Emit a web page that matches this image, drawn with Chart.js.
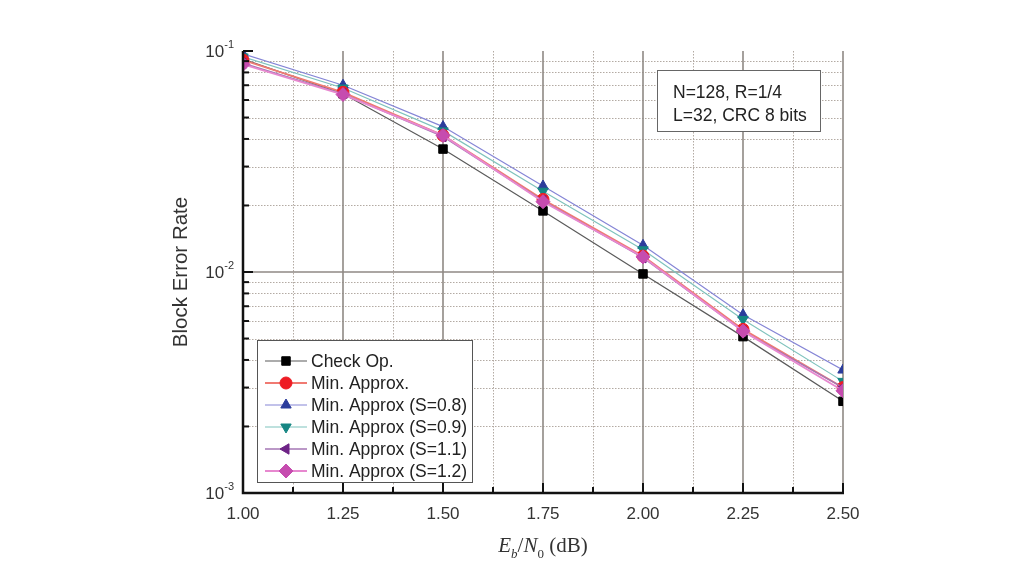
<!DOCTYPE html>
<html>
<head>
<meta charset="utf-8">
<script src="https://cdn.jsdelivr.net/npm/chart.js@4/dist/chart.umd.min.js"></script>
<style>
  html, body { margin: 0; padding: 0; background: #fff; }
  #wrap { width: 1032px; height: 570px; }
</style>
</head>
<body>
<div id="wrap"><canvas id="berChart" width="1032" height="570"></canvas></div>
<script>
// values
var ebn0 = [1.00, 1.25, 1.50, 1.75, 2.00, 2.25, 2.50];
var checkOp   = [0.092, 0.064, 0.036, 0.0189, 0.0098, 0.0051, 0.0026];
var minApprox = [0.091, 0.065, 0.0415, 0.0213, 0.0118, 0.0055, 0.0030];
var minS08    = [0.097, 0.070, 0.0455, 0.0245, 0.0132, 0.0064, 0.0036];
var minS09    = [0.094, 0.068, 0.0435, 0.0232, 0.0126, 0.0061, 0.0032];
var minS11    = [0.088, 0.064, 0.0410, 0.0210, 0.0116, 0.0054, 0.0030];
var minS12    = [0.087, 0.0635, 0.0415, 0.0208, 0.0117, 0.0054, 0.0029];
var seriesNames = ['Check Op.', 'Min. Approx.', 'Min. Approx (S=0.8)', 'Min. Approx (S=0.9)', 'Min. Approx (S=1.1)', 'Min. Approx (S=1.2)'];
var yDecades = [0.1, 0.01, 0.001];
var yDecadeExp = ['-1', '-2', '-3'];
var noteLines = ['N=128, R=1/4', 'L=32, CRC 8 bits'];

function pts(vals){ return vals.map(function(v, i){ return {x: ebn0[i], y: v}; }); }

function mk(label, vals, line, fill, style, rot, lw, order){
  return {
    label: label, data: pts(vals), borderColor: line, backgroundColor: fill,
    pointBackgroundColor: fill, pointBorderColor: fill, pointStyle: style,
    pointRotation: rot, pointRadius: style == 'rectRot' ? 7 : 6, pointBorderWidth: 1,
    borderWidth: lw, tension: 0, order: order
  };
}

var datasets = [
  mk(seriesNames[0], checkOp,   '#5a5a5a', '#000000', 'rect', 0, 1.2, 5),
  mk(seriesNames[1], minApprox, '#f07a72', '#ee1c24', 'circle', 0, 1.8, 2),
  mk(seriesNames[2], minS08,    '#8585d6', '#2b3c9c', 'triangle', 0, 1.2, 4),
  mk(seriesNames[3], minS09,    '#7fc3bd', '#168683', 'triangle', 180, 1.2, 3),
  mk(seriesNames[4], minS11,    '#a576b4', '#6e2386', 'triangle', -90, 1.4, 1),
  mk(seriesNames[5], minS12,    '#e788cf', '#c64caf', 'rectRot', 0, 1.8, 0)
];

var gridPlugin = {
  id: 'gridPlugin',
  beforeDatasetsDraw: function(chart){
    var ctx = chart.ctx, a = chart.chartArea, xs = chart.scales.x, ys = chart.scales.y;
    ctx.save();
    // minor dotted grid
    ctx.strokeStyle = '#b3aaa3'; ctx.lineWidth = 1; ctx.setLineDash([1.5, 1.5]);
    xs.ticks.forEach(function(t){
      if (Math.abs(t.value * 4 - Math.round(t.value * 4)) > 1e-6) {
        var px = Math.round(xs.getPixelForValue(t.value)) + 0.5;
        ctx.beginPath(); ctx.moveTo(px, a.top); ctx.lineTo(px, a.bottom); ctx.stroke();
      }
    });
    for (var d = 0; d < 2; d++) {
      for (var m = 2; m <= 9; m++) {
        var py = Math.round(ys.getPixelForValue(m * yDecades[d + 1])) + 0.5;
        ctx.beginPath(); ctx.moveTo(a.left, py); ctx.lineTo(a.right, py); ctx.stroke();
      }
    }
    // major solid grid
    ctx.setLineDash([]); ctx.strokeStyle = '#8f8984'; ctx.lineWidth = 1.6;
    xs.ticks.forEach(function(t){
      if (Math.abs(t.value * 4 - Math.round(t.value * 4)) < 1e-6 && t.value > 1) {
        var px = xs.getPixelForValue(t.value);
        ctx.beginPath(); ctx.moveTo(px, a.top); ctx.lineTo(px, a.bottom); ctx.stroke();
      }
    });
    var p2 = ys.getPixelForValue(0.01);
    ctx.beginPath(); ctx.moveTo(a.left, p2); ctx.lineTo(a.right, p2); ctx.stroke();
    ctx.restore();
  },
  afterDatasetsDraw: function(chart){
    var ctx = chart.ctx, a = chart.chartArea, xs = chart.scales.x, ys = chart.scales.y;
    ctx.save();
    // axes
    ctx.strokeStyle = '#111'; ctx.lineWidth = 2.5;
    ctx.beginPath(); ctx.moveTo(a.left, a.top); ctx.lineTo(a.left, a.bottom); ctx.lineTo(a.right + 1, a.bottom); ctx.stroke();
    ctx.lineWidth = 2;
    xs.ticks.forEach(function(t){
      var major = Math.abs(t.value * 4 - Math.round(t.value * 4)) < 1e-6;
      var px = xs.getPixelForValue(t.value);
      ctx.beginPath(); ctx.moveTo(px, a.bottom); ctx.lineTo(px, a.bottom - (major ? 10 : 6)); ctx.stroke();
    });
    yDecades.forEach(function(v){
      var py = ys.getPixelForValue(v);
      ctx.beginPath(); ctx.moveTo(a.left, py); ctx.lineTo(a.left + 10, py); ctx.stroke();
    });
    for (var d = 0; d < 2; d++) {
      for (var m = 2; m <= 9; m++) {
        var py = ys.getPixelForValue(m * yDecades[d + 1]);
        ctx.beginPath(); ctx.moveTo(a.left, py); ctx.lineTo(a.left + 6, py); ctx.stroke();
      }
    }
    // y tick labels 10^n
    ctx.fillStyle = '#333'; ctx.textBaseline = 'alphabetic';
    yDecades.forEach(function(v, i){
      var py = ys.getPixelForValue(v);
      ctx.font = '11px "Liberation Sans", Arial, sans-serif';
      var ew = ctx.measureText(yDecadeExp[i]).width;
      ctx.textAlign = 'right';
      ctx.fillText(yDecadeExp[i], a.left - 9, py - 3);
      ctx.font = '17px "Liberation Sans", Arial, sans-serif';
      ctx.fillText('10', a.left - 9 - ew, py + 6);
    });
    // y title
    ctx.save();
    ctx.translate(181, (a.top + a.bottom) / 2);
    ctx.rotate(-Math.PI / 2);
    ctx.font = '20.5px "Liberation Sans", Arial, sans-serif';
    ctx.textAlign = 'center'; ctx.textBaseline = 'middle'; ctx.fillStyle = '#333';
    ctx.fillText('Block Error Rate', 0, 0);
    ctx.restore();
    // x title: Eb/N0 (dB)
    var parts = [
      {t: 'E', f: 'italic 21px "Liberation Serif", "Times New Roman", serif', dy: 0},
      {t: 'b', f: 'italic 13px "Liberation Serif", "Times New Roman", serif', dy: 6},
      {t: '/', f: '21px "Liberation Serif", "Times New Roman", serif', dy: 0},
      {t: 'N', f: 'italic 21px "Liberation Serif", "Times New Roman", serif', dy: 0},
      {t: '0', f: '13px "Liberation Serif", "Times New Roman", serif', dy: 6},
      {t: ' (dB)', f: '21px "Liberation Serif", "Times New Roman", serif', dy: 0}
    ];
    var total = 0;
    parts.forEach(function(p){ ctx.font = p.f; p.w = ctx.measureText(p.t).width; total += p.w; });
    var cx = (a.left + a.right) / 2 - total / 2, base = 552;
    ctx.textAlign = 'left'; ctx.fillStyle = '#333';
    parts.forEach(function(p){ ctx.font = p.f; ctx.fillText(p.t, cx, base + p.dy); cx += p.w; });
    // legend box
    var lx = 257, ly = 340, lw = 215, lh = 142;
    ctx.fillStyle = '#fff'; ctx.fillRect(lx, ly, lw, lh);
    ctx.strokeStyle = '#555'; ctx.lineWidth = 1; ctx.strokeRect(lx + 0.5, ly + 0.5, lw, lh);
    chart.data.datasets.forEach(function(ds, i){
      var ry = ly + 21 + i * 22;
      ctx.strokeStyle = ds.borderColor; ctx.lineWidth = ds.borderWidth;
      ctx.beginPath(); ctx.moveTo(lx + 8, ry); ctx.lineTo(lx + 50, ry); ctx.stroke();
      ctx.fillStyle = ds.pointBackgroundColor; ctx.strokeStyle = ds.pointBorderColor; ctx.lineWidth = 1;
      Chart.helpers.drawPoint(ctx, {pointStyle: ds.pointStyle, radius: ds.pointRadius, rotation: ds.pointRotation, borderWidth: 1}, lx + 29, ry);
      ctx.fillStyle = '#222'; ctx.font = '17.5px "Liberation Sans", Arial, sans-serif';
      ctx.textAlign = 'left'; ctx.textBaseline = 'middle';
      ctx.fillText(ds.label, lx + 54, ry + 1);
    });
    // note box
    var nx = 657, ny = 70, nw = 163, nh = 61;
    ctx.fillStyle = '#fff'; ctx.fillRect(nx, ny, nw, nh);
    ctx.strokeStyle = '#666'; ctx.lineWidth = 1; ctx.strokeRect(nx + 0.5, ny + 0.5, nw, nh);
    ctx.fillStyle = '#222'; ctx.font = '17.5px "Liberation Sans", Arial, sans-serif';
    ctx.textAlign = 'left'; ctx.textBaseline = 'middle';
    noteLines.forEach(function(s, i){ ctx.fillText(s, nx + 16, ny + 23 + i * 23); });
    ctx.restore();
  }
};

new Chart(document.getElementById('berChart'), {
  type: 'line',
  data: { datasets: datasets },
  options: {
    responsive: false, animation: false, devicePixelRatio: 1,
    layout: { padding: { left: 0, right: 189, top: 51, bottom: 0 } },
    plugins: { legend: { display: false }, tooltip: { enabled: false } },
    scales: {
      x: {
        type: 'linear', min: 1, max: 2.5,
        afterFit: function(s){ s.height = 77; },
        grid: { display: false }, border: { display: false },
        ticks: {
          stepSize: 0.125, autoSkip: false, maxRotation: 0, padding: 3,
          color: '#333', font: { size: 17, family: '"Liberation Sans", Arial, sans-serif' },
          callback: function(v){ return Math.abs(v * 4 - Math.round(v * 4)) < 1e-6 ? v.toFixed(2) : ''; }
        }
      },
      y: {
        type: 'logarithmic', min: 0.001, max: 0.1,
        afterFit: function(s){ s.width = 243; },
        grid: { display: false }, border: { display: false },
        ticks: { display: false }
      }
    }
  },
  plugins: [gridPlugin]
});
</script>
</body>
</html>
